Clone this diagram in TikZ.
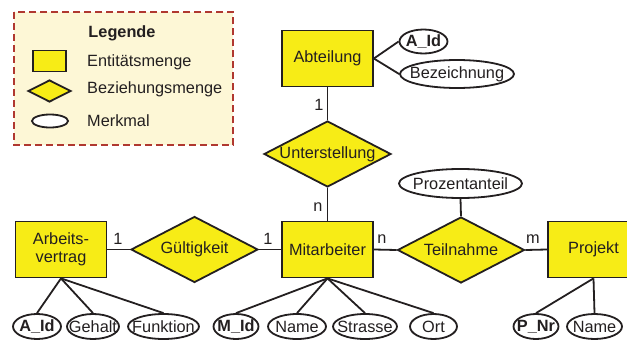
\documentclass[tikz,border=0pt]{standalone}
\usepackage{fontspec}
\setmainfont{Liberation Sans}
\usetikzlibrary{shapes.geometric}
\definecolor{ery}{RGB}{247,236,22}
\definecolor{legbg}{RGB}{253,247,214}
\definecolor{legbd}{RGB}{176,56,48}
\definecolor{ink}{RGB}{35,31,32}
\begin{document}
\begin{tikzpicture}[x=1pt,y=-1pt,
  every node/.style={font=\fontsize{16.3}{18}\selectfont, text=ink, inner sep=0pt},
  lw/.style={line width=1.8pt, draw=ink},
  ent/.style={lw, rectangle, fill=ery, minimum width=91pt, minimum height=56pt, align=center},
  rel/.style={lw, diamond, fill=ery, aspect=1.95, minimum width=127pt, minimum height=66pt},
  attr/.style={lw, ellipse, fill=white, minimum height=25pt},
  conn/.style={line width=1.8pt, draw=ink},
  card/.style={font=\fontsize{16.3}{18}\selectfont}
]
\useasboundingbox (0,0) rectangle (627,340);
\clip (0,0) rectangle (627,340);
% legend
\draw[legbd, fill=legbg, line width=2pt, dash pattern=on 7pt off 4pt] (14,12) rectangle (233,145);
\node[font=\fontsize{16.3}{18}\selectfont\bfseries] (leg) at (122,33) {Legende};
\node[lw, rectangle, fill=ery, minimum width=33pt, minimum height=21pt] (lent) at (49.5,61) {};
\node[anchor=west] (lentt) at (87,62) {Entitätsmenge};
\node[lw, diamond, fill=ery, aspect=2, minimum width=43pt, minimum height=22pt] (lrel) at (49.5,91) {};
\node[anchor=west] (lrelt) at (87,89) {Beziehungsmenge};
\node[lw, ellipse, fill=white, minimum width=36pt, minimum height=13pt] (lat) at (50,121) {};
\node[anchor=west] (latt) at (87,121) {Merkmal};
% entities
\node[ent] (abt) at (327.5,58.5) {Abteilung};
\node[ent] (ma) at (327.5,249.5) {Mitarbeiter};
\node[ent] (av) at (61,249.5) {Arbeits-\\vertrag};
\node[ent] (pj) at (593.5,249.5) {Projekt};
% relationships
\node[rel] (ust) at (327.5,154) {Unterstellung};
\node[rel] (gue) at (194.5,249.5) {Gültigkeit};
\node[rel] (tln) at (461,250) {Teilnahme};
% attributes
\node[attr, minimum width=48pt, minimum height=24pt, label={[font=\fontsize{16.3}{18}\selectfont\bfseries]center:A\_Id}] (aid) at (423.5,41.5) {};
\node[attr, minimum width=114pt, minimum height=28pt, label={center:Bezeichnung}] (bez) at (457,74) {};
\node[attr, minimum width=123pt, minimum height=29pt, label={center:Prozentanteil}] (proz) at (460.5,183.5) {};
\node[attr, minimum width=48pt, label={[font=\fontsize{16.3}{18}\selectfont\bfseries]center:A\_Id}] (avid) at (37,326.5) {};
\node[attr, minimum width=52pt, label={center:Gehalt}] (geh) at (93,326.5) {};
\node[attr, minimum width=71pt, label={center:Funktion}] (fkt) at (163.5,326.5) {};
\node[attr, minimum width=45pt, label={[font=\fontsize{16.3}{18}\selectfont\bfseries]center:M\_Id}] (mid) at (236,326.5) {};
\node[attr, minimum width=58pt, label={center:Name}] (mnm) at (297,326.5) {};
\node[attr, minimum width=64pt, label={center:Strasse}] (str) at (365,326.5) {};
\node[attr, minimum width=47pt, label={center:Ort}] (ort) at (433.5,326.5) {};
\node[attr, minimum width=45pt, label={[font=\fontsize{16.3}{18}\selectfont\bfseries]center:P\_Nr}] (pnr) at (536,326.5) {};
\node[attr, minimum width=55pt, label={center:Name}] (pnm) at (594.5,326.5) {};
% connectors
\draw[conn] (abt.east) -- (aid.west);
\draw[conn] (abt.east) -- (bez.west);
\draw[conn] (abt.south) -- (ust.north);
\draw[conn] (ust.south) -- (ma.north);
\draw[conn] (av.east) -- (gue.west);
\draw[conn] (gue.east) -- (ma.west);
\draw[conn] (ma.east) -- (tln.west);
\draw[conn] (tln.east) -- (pj.west);
\draw[conn] (proz.south) -- (tln.north);
\draw[conn] (av.south) -- (avid.north);
\draw[conn] (av.south) -- (geh.north);
\draw[conn] (av.south) -- (fkt.north);
\draw[conn] (ma.south) -- (mid.north);
\draw[conn] (ma.south) -- (mnm.north);
\draw[conn] (ma.south) -- (str.north);
\draw[conn] (ma.south) -- (ort.north);
\draw[conn] (pj.south) -- (pnr.north);
\draw[conn] (pj.south) -- (pnm.north);
% cardinalities
\node[card] (c1) at (319,105) {1};
\node[card] (c2) at (318,207) {n};
\node[card] (c3) at (118,239) {1};
\node[card] (c4) at (268,239) {1};
\node[card] (c5) at (382,239) {n};
\node[card] (c6) at (533,239) {m};
\end{tikzpicture}
\end{document}
